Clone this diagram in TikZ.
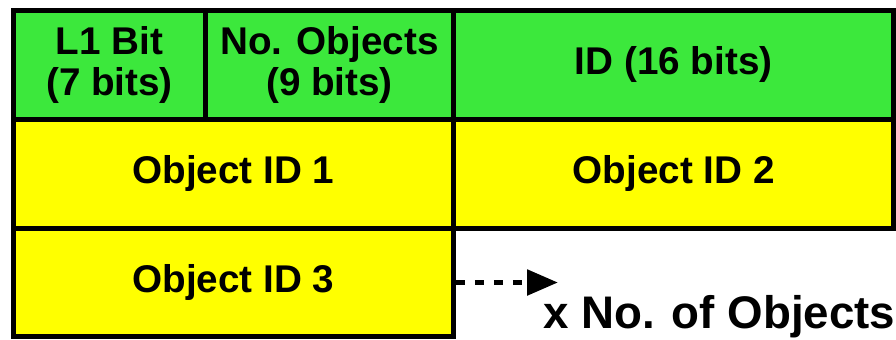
\documentclass[tikz,border=0pt]{standalone}
\usepackage{fontspec}
\setmainfont{Liberation Sans}
\usepackage{tikz}
\usetikzlibrary{arrows.meta, positioning}
\definecolor{verde}{RGB}{60, 232, 60}
\definecolor{amarillo}{RGB}{255, 255, 0}
\tikzset{
    cell/.style={draw=black, line width=0.1cm, inner sep=0pt, align=center, minimum height=2.18cm,
                 font=\bfseries\fontsize{22}{23.5}\selectfont},
    head/.style={cell, fill=verde},
    obj/.style={cell, fill=amarillo},
    more/.style={-{Triangle[length=0.62cm, width=0.5cm]}, line width=0.11cm, dash pattern=on 0.18cm off 0.2cm},
}
\begin{document}
\begin{tikzpicture}[x=0.02cm, y=-0.02cm]
    \useasboundingbox (0,0) rectangle (896,339);
        \node [head, minimum width=3.84cm] (l1) at (109.5,64.75) {L1 Bit\\(7 bits)};
        \node [head, minimum width=4.96cm] (nobj) at (329.5,64.75) {No. Objects\\(9 bits)};
        \node [head, minimum width=8.81cm] (id) at (673.75,64.75) {ID (16 bits)};
        \node [obj, minimum width=8.8cm] (obj1) at (233.5,173.75) {Object ID 1};
        \node [obj, minimum width=8.81cm] (obj2) at (673.75,173.75) {Object ID 2};
        \node [obj, minimum width=8.8cm] (obj3) at (233.5,282.5) {Object ID 3};
        \coordinate (tip) at (558,282.5);
        \node [anchor=base west, inner sep=0pt, font=\bfseries\fontsize{26}{28}\selectfont] (count) at (543,328) {x No. of Objects};

        \draw[more] (obj3.east) -- (tip);
    \end{tikzpicture}
\end{document}
